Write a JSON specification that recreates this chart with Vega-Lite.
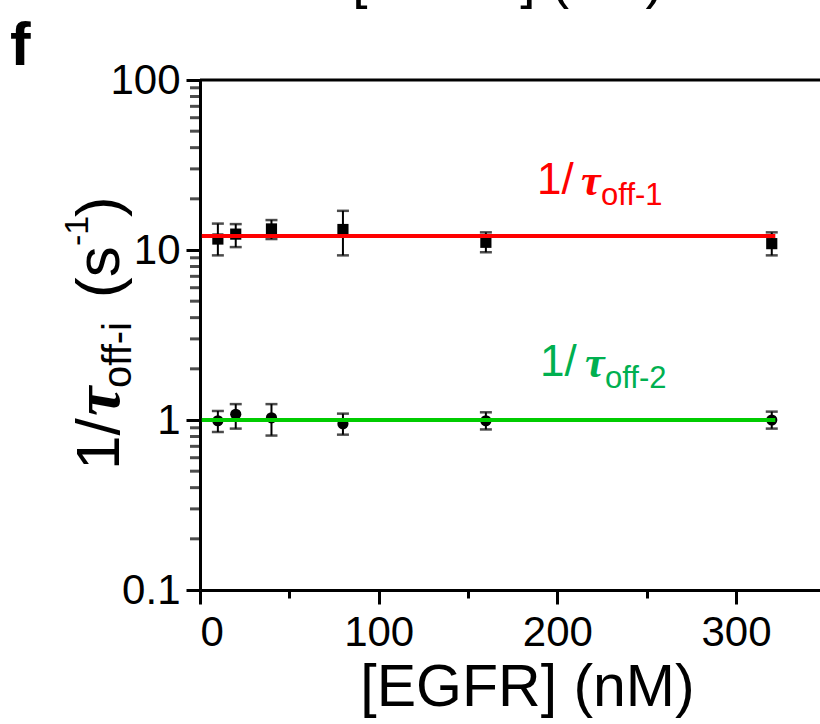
{
  "$schema": "https://vega.github.io/schema/vega-lite/v6.json",
  "autosize": "none",
  "width": 620,
  "height": 510,
  "padding": {"left": 200, "top": 80, "right": 0, "bottom": 134},
  "background": "white",
  "config": {
    "view": {"stroke": null},
    "font": "Liberation Sans",
    "axis": {
      "grid": false,
      "domainColor": "black",
      "domainWidth": 3,
      "tickColor": "black",
      "tickWidth": 3,
      "labelColor": "black",
      "labelFont": "Liberation Sans",
      "labelFontSize": 42,
      "titleFont": "Liberation Sans",
      "titleFontWeight": "normal",
      "titleColor": "black"
    }
  },
  "datasets": {
    "points": [
      {"series": "1/τoff-1", "egfr": 10, "rate": 11.6, "lo": 9.3, "hi": 14.3},
      {"series": "1/τoff-1", "egfr": 20, "rate": 12.4, "lo": 10.4, "hi": 14.2},
      {"series": "1/τoff-1", "egfr": 40, "rate": 13.3, "lo": 11.6, "hi": 15.0},
      {"series": "1/τoff-1", "egfr": 80, "rate": 13.2, "lo": 9.3, "hi": 17.0},
      {"series": "1/τoff-1", "egfr": 160, "rate": 11.1, "lo": 9.7, "hi": 12.7},
      {"series": "1/τoff-1", "egfr": 320, "rate": 10.9, "lo": 9.3, "hi": 12.7},
      {"series": "1/τoff-2", "egfr": 10, "rate": 0.99, "lo": 0.85, "hi": 1.13},
      {"series": "1/τoff-2", "egfr": 20, "rate": 1.08, "lo": 0.89, "hi": 1.24},
      {"series": "1/τoff-2", "egfr": 40, "rate": 1.03, "lo": 0.81, "hi": 1.24},
      {"series": "1/τoff-2", "egfr": 80, "rate": 0.95, "lo": 0.82, "hi": 1.09},
      {"series": "1/τoff-2", "egfr": 160, "rate": 0.99, "lo": 0.88, "hi": 1.11},
      {"series": "1/τoff-2", "egfr": 320, "rate": 1.0, "lo": 0.89, "hi": 1.12}
    ],
    "fits": [
      {"series": "1/τoff-1", "egfr": 1, "rate": 12.1},
      {"series": "1/τoff-1", "egfr": 322, "rate": 12.1},
      {"series": "1/τoff-2", "egfr": 1, "rate": 1.0},
      {"series": "1/τoff-2", "egfr": 322, "rate": 1.0}
    ],
    "minorTicks": [
      {"v": 0.2}, {"v": 0.3}, {"v": 0.4}, {"v": 0.5}, {"v": 0.6}, {"v": 0.7}, {"v": 0.8}, {"v": 0.9},
      {"v": 2}, {"v": 3}, {"v": 4}, {"v": 5}, {"v": 6}, {"v": 7}, {"v": 8}, {"v": 9},
      {"v": 20}, {"v": 30}, {"v": 40}, {"v": 50}, {"v": 60}, {"v": 70}, {"v": 80}, {"v": 90}
    ],
    "one": [{}]
  },
  "layer": [
    {
      "data": {"name": "points"},
      "mark": {"type": "rule", "color": "black", "strokeWidth": 2},
      "encoding": {
        "x": {
          "field": "egfr", "type": "quantitative",
          "scale": {"domain": [0, 347], "nice": false, "zero": false},
          "axis": {
            "values": [0, 50, 100, 150, 200, 250, 300],
            "format": "d",
            "labelExpr": "datum.value % 100 == 0 ? datum.label : ''",
            "tickSize": {"condition": {"test": "datum.value % 100 == 0", "value": 14}, "value": 8},
            "labelPadding": 8,
            "title": "[EGFR] (nM)",
            "titleFontSize": 59,
            "titleX": 327,
            "titleY": 115,
            "titleBaseline": "alphabetic",
            "titleAnchor": "middle"
          }
        },
        "y": {
          "field": "lo", "type": "quantitative",
          "scale": {"type": "log", "domain": [0.1, 100], "nice": false},
          "axis": {
            "values": [0.1, 1, 10, 100],
            "format": "~g",
            "tickSize": 14,
            "labelOverlap": false,
            "labelPadding": 6,
            "title": null
          }
        },
        "y2": {"field": "hi"}
      }
    },
    {
      "data": {"name": "minorTicks"},
      "mark": {"type": "tick", "orient": "horizontal", "color": "black", "size": 10, "thickness": 3},
      "encoding": {
        "x": {"datum": -2.8},
        "y": {"field": "v", "type": "quantitative"}
      }
    },
    {
      "data": {"name": "points"},
      "mark": {"type": "tick", "orient": "horizontal", "color": "black", "size": 12, "thickness": 2.5},
      "encoding": {
        "x": {"field": "egfr", "type": "quantitative"},
        "y": {"field": "lo", "type": "quantitative"}
      }
    },
    {
      "data": {"name": "points"},
      "mark": {"type": "tick", "orient": "horizontal", "color": "black", "size": 12, "thickness": 2.5},
      "encoding": {
        "x": {"field": "egfr", "type": "quantitative"},
        "y": {"field": "hi", "type": "quantitative"}
      }
    },
    {
      "data": {"name": "points"},
      "mark": {"type": "point", "filled": true, "opacity": 1, "color": "black", "size": 125},
      "encoding": {
        "x": {"field": "egfr", "type": "quantitative"},
        "y": {"field": "rate", "type": "quantitative"},
        "shape": {"field": "series", "type": "nominal", "scale": {"domain": ["1/τoff-1", "1/τoff-2"], "range": ["square", "circle"]}, "legend": null}
      }
    },
    {
      "data": {"name": "fits"},
      "mark": {"type": "line", "strokeWidth": 4},
      "encoding": {
        "x": {"field": "egfr", "type": "quantitative"},
        "y": {"field": "rate", "type": "quantitative"},
        "color": {"field": "series", "type": "nominal", "scale": {"domain": ["1/τoff-1", "1/τoff-2"], "range": ["#ff0000", "#00cc00"]}, "legend": null}
      }
    },
    {
      "data": {"name": "one"},
      "mark": {"type": "rule", "color": "black", "strokeWidth": 3},
      "encoding": {"y": {"datum": 100}}
    },
    {
      "data": {"name": "one"},
      "mark": {"type": "text", "text": "1/", "font": "Liberation Sans", "fontSize": 44, "color": "#ff0000", "align": "left", "baseline": "alphabetic"},
      "encoding": {"x": {"datum": 188.6}, "y": {"datum": 21.35}}
    },
    {
      "data": {"name": "one"},
      "mark": {"type": "text", "text": "τ", "font": "Liberation Serif", "fontStyle": "italic", "fontWeight": "bold", "fontSize": 44, "color": "#ff0000", "align": "left", "baseline": "alphabetic"},
      "encoding": {"x": {"datum": 213.3}, "y": {"datum": 21.06}}
    },
    {
      "data": {"name": "one"},
      "mark": {"type": "text", "text": "off-1", "font": "Liberation Sans", "fontSize": 31, "color": "#ff0000", "align": "left", "baseline": "alphabetic"},
      "encoding": {"x": {"datum": 224.5}, "y": {"datum": 18.4}}
    },
    {
      "data": {"name": "one"},
      "mark": {"type": "text", "text": "1/", "font": "Liberation Sans", "fontSize": 44, "color": "#00b050", "align": "left", "baseline": "alphabetic"},
      "encoding": {"x": {"datum": 190.3}, "y": {"datum": 1.815}}
    },
    {
      "data": {"name": "one"},
      "mark": {"type": "text", "text": "τ", "font": "Liberation Serif", "fontStyle": "italic", "fontWeight": "bold", "fontSize": 44, "color": "#00b050", "align": "left", "baseline": "alphabetic"},
      "encoding": {"x": {"datum": 215.5}, "y": {"datum": 1.792}}
    },
    {
      "data": {"name": "one"},
      "mark": {"type": "text", "text": "off-2", "font": "Liberation Sans", "fontSize": 31, "color": "#00b050", "align": "left", "baseline": "alphabetic"},
      "encoding": {"x": {"datum": 226.7}, "y": {"datum": 1.543}}
    },
    {
      "data": {"name": "one"},
      "mark": {"type": "text", "text": "1/", "font": "Liberation Sans", "fontSize": 62, "color": "black", "angle": 270, "align": "left", "baseline": "alphabetic"},
      "encoding": {"x": {"datum": -45.3}, "y": {"datum": 0.508}}
    },
    {
      "data": {"name": "one"},
      "mark": {"type": "text", "text": "τ", "font": "Liberation Serif", "fontStyle": "italic", "fontWeight": "bold", "fontSize": 66, "color": "black", "angle": 270, "align": "left", "baseline": "alphabetic"},
      "encoding": {"x": {"datum": -45.3}, "y": {"datum": 1.056}}
    },
    {
      "data": {"name": "one"},
      "mark": {"type": "text", "text": "off-i", "font": "Liberation Sans", "fontSize": 40, "color": "black", "angle": 270, "align": "left", "baseline": "alphabetic"},
      "encoding": {"x": {"datum": -38.6}, "y": {"datum": 1.543}}
    },
    {
      "data": {"name": "one"},
      "mark": {"type": "text", "text": "(s", "font": "Liberation Sans", "fontSize": 62, "color": "black", "angle": 270, "align": "left", "baseline": "alphabetic"},
      "encoding": {"x": {"datum": -45.3}, "y": {"datum": 5.22}}
    },
    {
      "data": {"name": "one"},
      "mark": {"type": "text", "text": "-1", "font": "Liberation Sans", "fontSize": 34, "color": "black", "angle": 270, "align": "left", "baseline": "alphabetic"},
      "encoding": {"x": {"datum": -62.7}, "y": {"datum": 10.56}}
    },
    {
      "data": {"name": "one"},
      "mark": {"type": "text", "text": ")", "font": "Liberation Sans", "fontSize": 62, "color": "black", "angle": 270, "align": "left", "baseline": "alphabetic"},
      "encoding": {"x": {"datum": -45.3}, "y": {"datum": 15.64}}
    },
    {
      "data": {"name": "one"},
      "mark": {"type": "text", "text": "f", "font": "Liberation Sans", "fontWeight": "bold", "fontSize": 62, "color": "black", "align": "left", "baseline": "alphabetic"},
      "encoding": {"x": {"datum": -106.3}, "y": {"datum": 122.5}}
    },
    {
      "data": {"name": "one"},
      "mark": {"type": "text", "text": "[EGFR] (nM)", "font": "Liberation Sans", "fontSize": 55, "color": "black", "align": "center", "baseline": "alphabetic"},
      "encoding": {"x": {"datum": 172.4}, "y": {"datum": 307.7}}
    }
  ]
}
